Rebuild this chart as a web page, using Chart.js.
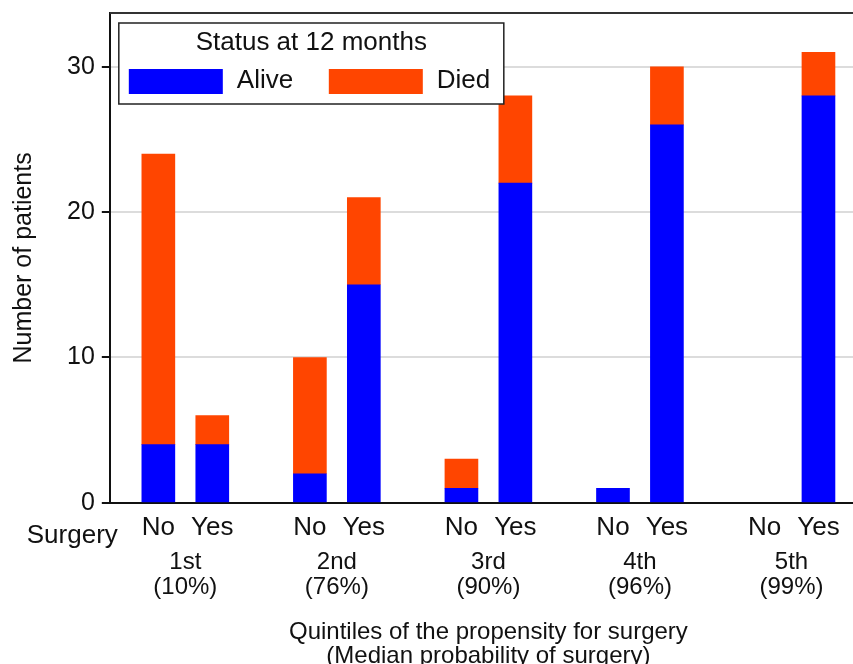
<!DOCTYPE html>
<html>
<head>
<meta charset="utf-8">
<script src="https://cdn.jsdelivr.net/npm/chart.js@4"></script>
<style>
  html, body { margin: 0; padding: 0; background: #fff; overflow: hidden; }
  #wrap { width: 853px; height: 664px; overflow: hidden; }
  canvas { display: block; margin-top: -9px; }
</style>
</head>
<body>
<div id="wrap"><canvas id="c" width="880" height="673" style="width:880px;height:673px"></canvas></div>
<script>
// Patients per propensity quintile, split by surgery and 12-month status
const quintiles = ['1st', '2nd', '3rd', '4th', '5th'];
const medianProbability = ['(10%)', '(76%)', '(90%)', '(96%)', '(99%)'];
const surgeryLabels = ['No', 'Yes'];
const aliveNoSurgery = [4, 2, 1, 1, 0];
const diedNoSurgery = [20, 8, 2, 0, 0];
const aliveSurgery = [4, 15, 22, 26, 28];
const diedSurgery = [2, 6, 6, 4, 3];
const yTicks = [0, 10, 20, 30];

const FONT = '"Liberation Sans", Arial, Helvetica, sans-serif';
const TEXT = '#111';
const BLUE = '#0000ff';
const ORANGE = '#ff4500';

// bar slots: No/Yes pair inside each quintile, wider gap between quintiles
const GROUP_STEP = 2.81;
const slots = [];
quintiles.forEach((q, g) => surgeryLabels.forEach((s, k) => slots.push({ g, k, pos: g * GROUP_STEP + k })));

// empty cells are left out so no zero-height sliver is drawn
const pick = (noArr, yesArr) => slots
  .map(s => ({ x: s.pos, y: (s.k === 0 ? noArr : yesArr)[s.g] }))
  .filter(p => p.y > 0);

const decorations = {
  id: 'decorations',
  afterDraw(chart) {
    const { ctx, chartArea: a, scales: { x } } = chart;
    ctx.save();
    // top frame line
    ctx.strokeStyle = '#333';
    ctx.lineWidth = 2;
    ctx.beginPath();
    ctx.moveTo(a.left, a.top);
    ctx.lineTo(a.right + 20, a.top);
    ctx.stroke();

    ctx.fillStyle = TEXT;
    ctx.textBaseline = 'middle';
    ctx.textAlign = 'center';
    ctx.font = `24px ${FONT}`;
    quintiles.forEach((q, g) => {
      const cx = x.getPixelForValue(g * GROUP_STEP + 0.5);
      ctx.fillText(q, cx, a.bottom + 60);
      ctx.fillText(medianProbability[g], cx, a.bottom + 85);
    });
    ctx.textAlign = 'right';
    ctx.font = `26px ${FONT}`;
    ctx.fillText('Surgery', a.left + 8, a.bottom + 33);

    ctx.textAlign = 'center';
    ctx.font = `24px ${FONT}`;
    const mid = (a.left + a.right) / 2;
    ctx.fillText('Quintiles of the propensity for surgery', mid, a.bottom + 130);
    ctx.fillText('(Median probability of surgery)', mid, a.bottom + 154);

    // legend box
    const bx = a.left + 9, by = a.top + 10, bw = 385, bh = 81;
    ctx.fillStyle = '#fff';
    ctx.fillRect(bx, by, bw, bh);
    ctx.strokeStyle = '#222';
    ctx.lineWidth = 1.5;
    ctx.strokeRect(bx, by, bw, bh);
    ctx.fillStyle = TEXT;
    ctx.font = `26px ${FONT}`;
    ctx.textAlign = 'center';
    ctx.fillText('Status at 12 months', bx + bw / 2, by + 20);
    ctx.textAlign = 'left';
    chart.data.datasets.forEach((ds, i) => {
      const sx = bx + 10 + i * 200;
      ctx.fillStyle = ds.backgroundColor;
      ctx.fillRect(sx, by + 46, 94, 25);
      ctx.fillStyle = TEXT;
      ctx.fillText(ds.label, sx + 108, by + 58);
    });
    ctx.restore();
  }
};

new Chart(document.getElementById('c'), {
  type: 'bar',
  data: {
    datasets: [
      { label: 'Alive', data: pick(aliveNoSurgery, aliveSurgery), backgroundColor: BLUE },
      { label: 'Died', data: pick(diedNoSurgery, diedSurgery), backgroundColor: ORANGE }
    ]
  },
  options: {
    responsive: false,
    animation: false,
    devicePixelRatio: 1,
    barThickness: 33,
    layout: { padding: { top: 11, right: 13, bottom: 112, left: 0 } },
    plugins: { legend: { display: false }, tooltip: { enabled: false } },
    scales: {
      x: {
        type: 'linear',
        stacked: true,
        offset: false,
        min: -0.9,
        max: 4 * GROUP_STEP + 1.9,
        afterBuildTicks: scale => { scale.ticks = slots.map(s => ({ value: s.pos })); },
        ticks: {
          autoSkip: false,
          maxRotation: 0,
          padding: 9,
          color: TEXT,
          font: { family: FONT, size: 26 },
          callback: (v, i) => surgeryLabels[i % 2]
        },
        grid: { display: false, drawTicks: false },
        border: { display: true, color: '#111', width: 2 }
      },
      y: {
        stacked: true,
        min: 0,
        max: 33.7,
        afterBuildTicks: scale => { scale.ticks = yTicks.map(v => ({ value: v })); },
        ticks: { padding: 7, color: TEXT, font: { family: FONT, size: 25 } },
        grid: { color: '#dcdcdc', lineWidth: 2, tickColor: '#111', tickLength: 8 },
        border: { display: true, color: '#111', width: 2 },
        title: {
          display: true,
          text: 'Number of patients',
          color: TEXT,
          font: { family: FONT, size: 25 },
          padding: { top: 9, bottom: 21 }
        }
      }
    }
  },
  plugins: [decorations]
});
</script>
</body>
</html>
